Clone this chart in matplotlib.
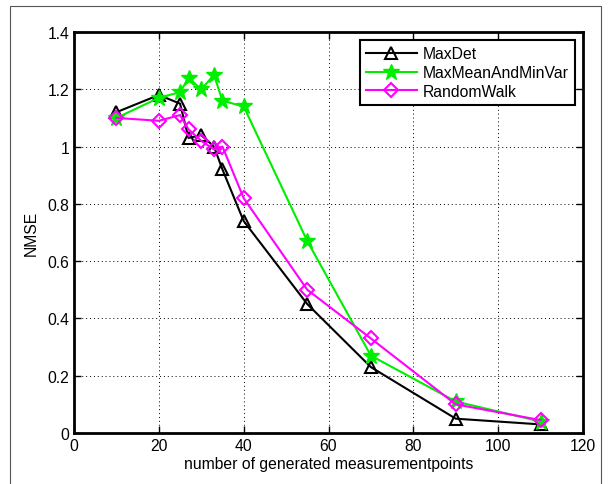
import numpy as np
import matplotlib.pyplot as plt
from matplotlib.patches import Rectangle

plt.rcParams['font.family'] = ['Liberation Sans', 'DejaVu Sans']

x = [10, 20, 25, 27, 30, 33, 35, 40, 55, 70, 90, 110]
max_det = [1.12, 1.18, 1.15, 1.03, 1.04, 1.00, 0.92, 0.74, 0.45, 0.23, 0.05, 0.03]
max_mean_min_var = [1.10, 1.17, 1.19, 1.24, 1.20, 1.25, 1.16, 1.14, 0.67, 0.27, 0.11, 0.04]
random_walk = [1.10, 1.09, 1.11, 1.06, 1.02, 0.99, 1.00, 0.82, 0.50, 0.33, 0.10, 0.045]

fs = 11.3

fig = plt.figure(figsize=(6.08, 4.85), dpi=100)
ax = fig.add_axes([74/608, 1 - 434/485, (583-74)/608, (434-33)/485])

# outer frame like the exported figure
fig.patches.append(Rectangle((10/608, -0.05), (601-10)/608, 1.05 - 7/485,
                             transform=fig.transFigure, fill=False,
                             edgecolor='#555555', lw=0.8))

ax.plot(x, max_det, '-^', color='black', lw=1.5, ms=8.5, mfc='none', mew=1.5, label='MaxDet')
ax.plot(x, max_mean_min_var, '-*', color='#00ee00', lw=1.5, ms=12, mfc='#00ee00', mew=1, label='MaxMeanAndMinVar')
ax.plot(x, random_walk, '-D', color='magenta', lw=1.5, ms=7, mfc='none', mew=1.5, label='RandomWalk')

ax.set_xlim(0, 120)
ax.set_ylim(0, 1.4)
ax.set_xticks(np.arange(0, 121, 20))
ax.set_yticks([0, 0.2, 0.4, 0.6, 0.8, 1, 1.2, 1.4])
ax.set_yticklabels(['0', '0.2', '0.4', '0.6', '0.8', '1', '1.2', '1.4'])
ax.grid(True, linestyle=(0, (1, 3)), color='black', lw=0.7)
ax.tick_params(direction='in', top=True, right=True, labelsize=fs, length=5, width=1)
for s in ax.spines.values():
    s.set_linewidth(2)

ax.set_xlabel('number of generated measurementpoints', fontsize=fs, labelpad=2)
ax.set_ylabel('NMSE', fontsize=fs, labelpad=6)

leg = ax.legend(loc='upper right', fontsize=fs, fancybox=False, framealpha=1,
                edgecolor='black', borderaxespad=0.5, handlelength=3.2,
                handletextpad=0.4, labelspacing=0.25, borderpad=0.4)
leg.get_frame().set_linewidth(1.5)

fig.savefig('out.png', dpi=100)
